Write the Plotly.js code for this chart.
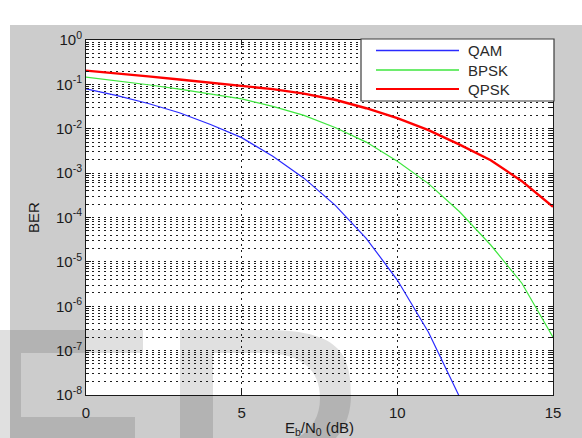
<!DOCTYPE html>
<html>
<head>
<meta charset="utf-8">
<script src="https://cdn.plot.ly/plotly-3.0.1.min.js"></script>
<style>
  html, body { margin: 0; padding: 0; background: #ffffff; }
  #chart { width: 582px; height: 438px; }
</style>
</head>
<body>
<div id="chart"></div>
<script>
// ---- data ----
const ebn0 = [0, 1, 2, 3, 4, 5, 6, 7, 8, 9, 10, 11, 12, 13, 14, 15];
const ebn0QAM = [0, 1, 2, 3, 4, 5, 6, 7, 8, 9, 10, 11, 12];
const berQAM = [0.079, 0.056, 0.037, 0.023, 0.0125, 0.0063, 0.0024, 7.7e-4, 1.9e-4, 3.4e-5, 3.9e-6, 2.6e-7, 9.0e-9];
const berBPSK = [0.145, 0.120, 0.098, 0.078, 0.060, 0.047, 0.032, 0.020, 0.0107, 0.0050, 0.00186, 5.8e-4, 1.35e-4, 2.4e-5, 3.3e-6, 2.0e-7];
const berQPSK = [0.204, 0.178, 0.151, 0.129, 0.110, 0.093, 0.078, 0.062, 0.045, 0.029, 0.0174, 0.0093, 0.0044, 0.00195, 6.6e-4, 1.74e-4];

const seriesNames = ['QAM', 'BPSK', 'QPSK'];
const seriesColors = ['#2a2aff', '#3ee63e', '#ff0000'];
const seriesWidths = [1.2, 1.2, 2.4];

const xTickVals = [0, 5, 10, 15];
const xTickText = ['0', '5', '10', '15'];
const yTickVals = [1e-8, 1e-7, 1e-6, 1e-5, 1e-4, 1e-3, 1e-2, 1e-1, 1];
const yTickText = ['10<sup>-8</sup>', '10<sup>-7</sup>', '10<sup>-6</sup>', '10<sup>-5</sup>',
                   '10<sup>-4</sup>', '10<sup>-3</sup>', '10<sup>-2</sup>', '10<sup>-1</sup>', '10<sup>0</sup>'];

// minor (2..9 per decade) tick positions of the log axis
const yMinorVals = [];
for (let e = -8; e < 0; e++) {
  for (let k = 2; k <= 9; k++) yMinorVals.push(k * Math.pow(10, e));
}

// ---- layout geometry (pixels) ----
const W = 582, H = 438;
const M = { l: 86, r: 29, t: 40, b: 43 };
const PW = W - M.l - M.r, PH = H - M.t - M.b;
const px = x => (x - M.l) / PW;
const py = y => (H - M.b - y) / PH;
function path(cmds) {
  return cmds.map(c => {
    if (c[0] === 'Z') return 'Z';
    const pts = [];
    for (let i = 1; i < c.length; i += 2) pts.push(px(c[i]).toFixed(5) + ',' + py(c[i + 1]).toFixed(5));
    return c[0] + pts.join(' ');
  }).join(' ');
}

const fontFam = '"Liberation Sans", Arial, Helvetica, sans-serif';
const gridDash = '2px,4px';
const gridColor = '#1e1e1e';

const traces = [
  { x: ebn0QAM, y: berQAM, name: seriesNames[0], type: 'scatter', mode: 'lines',
    line: { color: seriesColors[0], width: seriesWidths[0] } },
  { x: ebn0, y: berBPSK, name: seriesNames[1], type: 'scatter', mode: 'lines',
    line: { color: seriesColors[1], width: seriesWidths[1] } },
  { x: ebn0, y: berQPSK, name: seriesNames[2], type: 'scatter', mode: 'lines',
    line: { color: seriesColors[2], width: seriesWidths[2] } }
];

const shapes = [];
const annotations = [];

// white page margin around the grey figure
shapes.push({ type: 'rect', xref: 'paper', yref: 'paper', layer: 'below',
  x0: px(0), x1: px(W), y0: py(0), y1: py(25), fillcolor: '#ffffff', line: { width: 0 } });
shapes.push({ type: 'rect', xref: 'paper', yref: 'paper', layer: 'below',
  x0: px(0), x1: px(10), y0: py(0), y1: py(H), fillcolor: '#ffffff', line: { width: 0 } });

// manual legend (box, line samples, labels)
const lg = { x0: 361, x1: 554, y0: 39, y1: 101, lineX0: 376, lineX1: 459, textX: 466, rows: [50.5, 70, 89] };
shapes.push({ type: 'rect', xref: 'paper', yref: 'paper', layer: 'above',
  x0: px(lg.x0), x1: px(lg.x1), y0: py(lg.y1), y1: py(lg.y0),
  fillcolor: '#ffffff', line: { color: '#3c3c3c', width: 1.2 } });
seriesNames.forEach((nm, i) => {
  shapes.push({ type: 'line', xref: 'paper', yref: 'paper', layer: 'above',
    x0: px(lg.lineX0), x1: px(lg.lineX1), y0: py(lg.rows[i]), y1: py(lg.rows[i]),
    line: { color: seriesColors[i], width: i === 2 ? 2 : 1.5 } });
  annotations.push({ xref: 'paper', yref: 'paper', x: px(lg.textX), y: py(lg.rows[i] + 0.5),
    xanchor: 'left', yanchor: 'middle', showarrow: false, text: nm,
    font: { family: fontFam, size: 15, color: '#2a2a2a' } });
});

// faint "ED" watermark in the lower-left corner
const wm = 'rgba(0,0,0,0.12)';
shapes.push({ type: 'path', xref: 'paper', yref: 'paper', layer: 'above', fillcolor: wm, line: { width: 0 },
  path: path([['M', 0, 330], ['L', 143, 330], ['L', 143, 353], ['L', 21, 353], ['L', 21, 417],
              ['L', 135, 417], ['L', 135, 438], ['L', 0, 438], ['Z']]) });
shapes.push({ type: 'path', xref: 'paper', yref: 'paper', layer: 'above', fillcolor: wm, line: { width: 0 },
  fillrule: 'evenodd',
  path: path([['M', 180, 330], ['L', 265, 330], ['C', 338, 330, 351, 352, 351, 395],
              ['C', 351, 430, 330, 462, 265, 462], ['L', 180, 462], ['Z'],
              ['M', 213, 353], ['L', 213, 445], ['L', 262, 445], ['C', 302, 445, 320, 425, 320, 398],
              ['C', 320, 370, 302, 353, 262, 353], ['Z']]) });

const layout = {
  width: W, height: H,
  margin: M,
  paper_bgcolor: '#cccccc',
  plot_bgcolor: '#ffffff',
  showlegend: false,
  font: { family: fontFam, size: 15, color: '#1a1a1a' },
  xaxis: {
    range: [0, 15],
    tickmode: 'array', tickvals: xTickVals, ticktext: xTickText,
    ticks: 'inside', ticklen: 5, tickcolor: '#1a1a1a', tickwidth: 1,
    showline: true, linecolor: '#1a1a1a', linewidth: 1, mirror: 'ticks',
    showgrid: true, gridcolor: gridColor, griddash: gridDash, gridwidth: 1,
    zeroline: false,
    tickfont: { family: fontFam, size: 15, color: '#1a1a1a' },
    ticklabelstandoff: 4,
    title: { text: 'E<sub>b</sub>/N<sub>0</sub> (dB)', standoff: 3,
             font: { family: fontFam, size: 15, color: '#1a1a1a' } }
  },
  yaxis: {
    type: 'log', range: [-8, 0],
    tickmode: 'array', tickvals: yTickVals, ticktext: yTickText,
    ticks: 'inside', ticklen: 5, tickcolor: '#1a1a1a', tickwidth: 1,
    showline: true, linecolor: '#1a1a1a', linewidth: 1, mirror: 'ticks',
    showgrid: true, gridcolor: gridColor, griddash: gridDash, gridwidth: 1,
    zeroline: false,
    tickfont: { family: fontFam, size: 15, color: '#1a1a1a' },
    minor: { tickmode: 'array', tickvals: yMinorVals, ticks: 'inside', ticklen: 3,
             tickcolor: '#1a1a1a', showgrid: true, gridcolor: gridColor, griddash: gridDash, gridwidth: 1 },
    title: { text: 'BER', standoff: 12, font: { family: fontFam, size: 15, color: '#1a1a1a' } }
  },
  shapes: shapes,
  annotations: annotations
};

Plotly.newPlot('chart', traces, layout, { staticPlot: true, displayModeBar: false });
</script>
</body>
</html>
